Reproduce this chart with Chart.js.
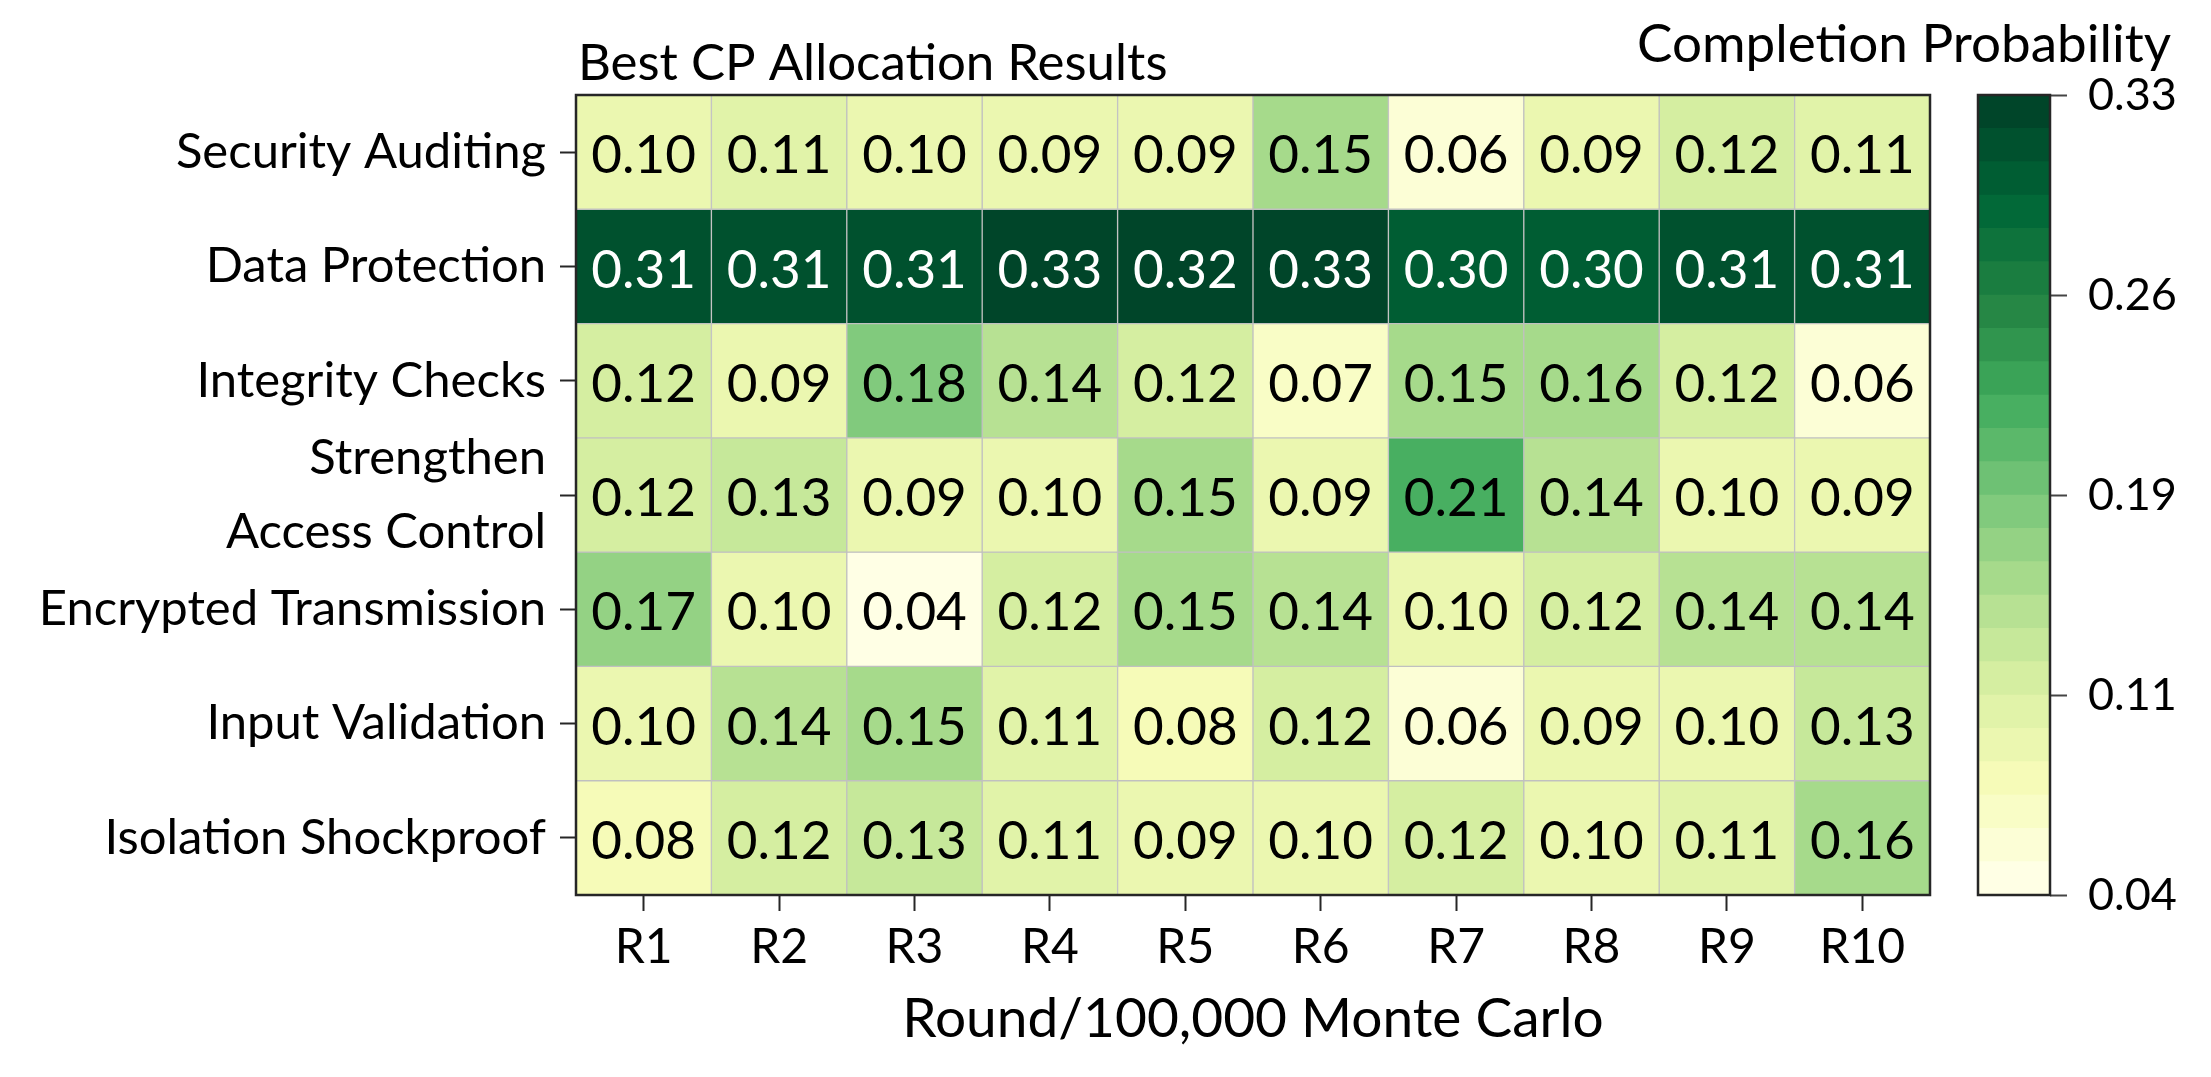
<!DOCTYPE html>
<html>
<head>
<meta charset="utf-8">
<script src="https://cdn.jsdelivr.net/npm/chart.js@4"></script>
<style>
  html, body { margin: 0; padding: 0; background: #fff; }
  #wrap { position: relative; width: 2211px; height: 1077px; }
  #heat { position: absolute; left: 0; top: 0; }
  #cbar { position: absolute; left: 1940px; top: 0; }
</style>
</head>
<body>
<div id="wrap">
  <canvas id="heat" width="2211" height="1077"></canvas>
  <canvas id="cbar" width="271" height="1077"></canvas>
</div>
<script>
// data
const rounds = ['R1', 'R2', 'R3', 'R4', 'R5', 'R6', 'R7', 'R8', 'R9', 'R10'];
const rowNames = ['Security Auditing', 'Data Protection', 'Integrity Checks', ['Strengthen', 'Access Control'],
                  'Encrypted Transmission', 'Input Validation', 'Isolation Shockproof'];

const securityAuditing   = [0.10, 0.11, 0.10, 0.09, 0.09, 0.15, 0.06, 0.09, 0.12, 0.11];
const dataProtection     = [0.31, 0.31, 0.31, 0.33, 0.32, 0.33, 0.30, 0.30, 0.31, 0.31];
const integrityChecks    = [0.12, 0.09, 0.18, 0.14, 0.12, 0.07, 0.15, 0.16, 0.12, 0.06];
const accessControl      = [0.12, 0.13, 0.09, 0.10, 0.15, 0.09, 0.21, 0.14, 0.10, 0.09];
const encryptedTransmit  = [0.17, 0.10, 0.04, 0.12, 0.15, 0.14, 0.10, 0.12, 0.14, 0.14];
const inputValidation    = [0.10, 0.14, 0.15, 0.11, 0.08, 0.12, 0.06, 0.09, 0.10, 0.13];
const isolationShock     = [0.08, 0.12, 0.13, 0.11, 0.09, 0.10, 0.12, 0.10, 0.11, 0.16];
const grid = [securityAuditing, dataProtection, integrityChecks, accessControl,
              encryptedTransmit, inputValidation, isolationShock];

const cbTicks = [0.04, 0.1125, 0.185, 0.2575, 0.33];
const cbTickLabels = ['0.04', '0.11', '0.19', '0.26', '0.33'];
const vMin = 0.04, vMax = 0.33, nLevels = 24;

const FONT = 'Lato';

// YlGn colormap stops
const ylgn = ['#ffffe5', '#f7fcb9', '#d9f0a3', '#addd8e', '#78c679', '#41ab5d', '#238443', '#006837', '#004529'];

function hexRgb(h) { return [1, 3, 5].map(i => parseInt(h.substr(i, 2), 16)); }
function cmap(t) {
    const p = Math.max(0, Math.min(1, t)) * (ylgn.length - 1);
    const i = Math.min(ylgn.length - 2, Math.floor(p)), f = p - i;
    const a = hexRgb(ylgn[i]), b = hexRgb(ylgn[i + 1]);
    const c = a.map((x, k) => Math.round(x + (b[k] - x) * f));
    return `rgb(${c[0]},${c[1]},${c[2]})`;
}
function levelOf(v) {
    return Math.max(0, Math.min(nLevels - 1, Math.floor((v - vMin) / (vMax - vMin) * nLevels + 1e-9)));
}
function colorFor(v) { return cmap(levelOf(v) / (nLevels - 1)); }

// frame round the plot area
const framePlugin = {
    id: 'frame',
    afterDraw(chart) {
        const { ctx, chartArea: a } = chart;
        ctx.save();
        ctx.strokeStyle = '#262626';
        ctx.lineWidth = 2.5;
        ctx.strokeRect(a.left, a.top, a.right - a.left, a.bottom - a.top);
        ctx.restore();
    }
};

// numbers inside the cells + the two headings
const cellText = {
    id: 'cellText',
    afterDatasetsDraw(chart) {
        const ctx = chart.ctx;
        ctx.save();
        ctx.font = `53px ${FONT}`;
        ctx.textAlign = 'center';
        ctx.textBaseline = 'middle';
        chart.data.datasets.forEach((ds, i) => {
            chart.getDatasetMeta(i).data.forEach((bar, j) => {
                const v = ds.values[j];
                ctx.fillStyle = v > 0.25 ? '#ffffff' : '#000000';
                ctx.fillText(v.toFixed(2), bar.x, (bar.y + bar.base) / 2 + 4);
            });
        });
        ctx.restore();
    },
    afterDraw(chart) {
        const ctx = chart.ctx;
        ctx.save();
        ctx.fillStyle = '#000';
        ctx.textBaseline = 'middle';
        ctx.font = `51px ${FONT}`;
        ctx.textAlign = 'left';
        ctx.fillText('Best CP Allocation Results', chart.chartArea.left + 2, 64);
        ctx.font = `53px ${FONT}`;
        ctx.textAlign = 'right';
        ctx.fillText('Completion Probability', 2171, 45);
        ctx.restore();
    }
};

new Chart(document.getElementById('heat'), {
    type: 'bar',
    data: {
        labels: rounds,
        datasets: grid.map((vals, i) => ({
            label: String(rowNames[i]),
            data: vals.map(() => 1),
            values: vals,
            backgroundColor: vals.map(colorFor),
            borderColor: '#c0c0c0',
            borderWidth: 1,
            borderSkipped: false,
            categoryPercentage: 1,
            barPercentage: 1
        }))
    },
    options: {
        responsive: false,
        animation: false,
        devicePixelRatio: 1,
        layout: { padding: { left: 0, top: 95, right: 281, bottom: 0 } },
        plugins: { legend: { display: false }, tooltip: { enabled: false } },
        scales: {
            x: {
                stacked: true,
                offset: true,
                grid: { drawOnChartArea: false, offset: false, tickLength: 16, tickWidth: 2, tickColor: '#262626' },
                border: { display: false },
                ticks: { font: { family: FONT, size: 48 }, color: '#000', padding: 8, maxRotation: 0, autoSkip: false },
                title: { display: true, text: 'Round/100,000 Monte Carlo', color: '#000',
                         font: { family: FONT, size: 55 }, padding: { top: 0, bottom: 25 } },
                afterFit: s => { s.height = 182; }
            },
            y: {
                type: 'linear',
                stacked: true,
                reverse: true,
                min: 0,
                max: rowNames.length,
                afterBuildTicks: s => { s.ticks = rowNames.map((_, i) => ({ value: i + 0.5 })); },
                grid: { drawOnChartArea: false, tickLength: 16, tickWidth: 2, tickColor: '#262626' },
                border: { display: false },
                ticks: {
                    callback: (v, i) => rowNames[i],
                    font: { family: FONT, size: 49, lineHeight: 1.5 },
                    color: '#000',
                    padding: 14,
                    autoSkip: false
                },
                afterFit: s => { s.width = 576; }
            }
        }
    },
    plugins: [cellText, framePlugin]
});

// colour bar
const bandStep = (vMax - vMin) / nLevels;
const bands = [];
for (let k = 0; k < nLevels; k++) bands.push([vMin + k * bandStep, vMin + (k + 1) * bandStep]);

new Chart(document.getElementById('cbar'), {
    type: 'bar',
    data: {
        labels: [''],
        datasets: bands.map((b, k) => ({
            data: [b],
            backgroundColor: cmap(k / (nLevels - 1)),
            borderWidth: 0,
            grouped: false,
            categoryPercentage: 1,
            barPercentage: 1
        }))
    },
    options: {
        responsive: false,
        animation: false,
        devicePixelRatio: 1,
        layout: { padding: { left: 38, top: 95, right: 0, bottom: 182 } },
        plugins: { legend: { display: false }, tooltip: { enabled: false } },
        scales: {
            x: { display: false },
            y: {
                position: 'right',
                min: vMin,
                max: vMax,
                afterBuildTicks: s => { s.ticks = cbTicks.map(v => ({ value: v })); },
                grid: { drawOnChartArea: false, tickLength: 17, tickWidth: 2, tickColor: '#444' },
                border: { display: false },
                ticks: {
                    callback: (v, i) => cbTickLabels[i],
                    font: { family: FONT, size: 45 },
                    color: '#000',
                    padding: 21,
                    autoSkip: false
                },
                afterFit: s => { s.width = 161; }
            }
        }
    },
    plugins: [framePlugin]
});
</script>
</body>
</html>
